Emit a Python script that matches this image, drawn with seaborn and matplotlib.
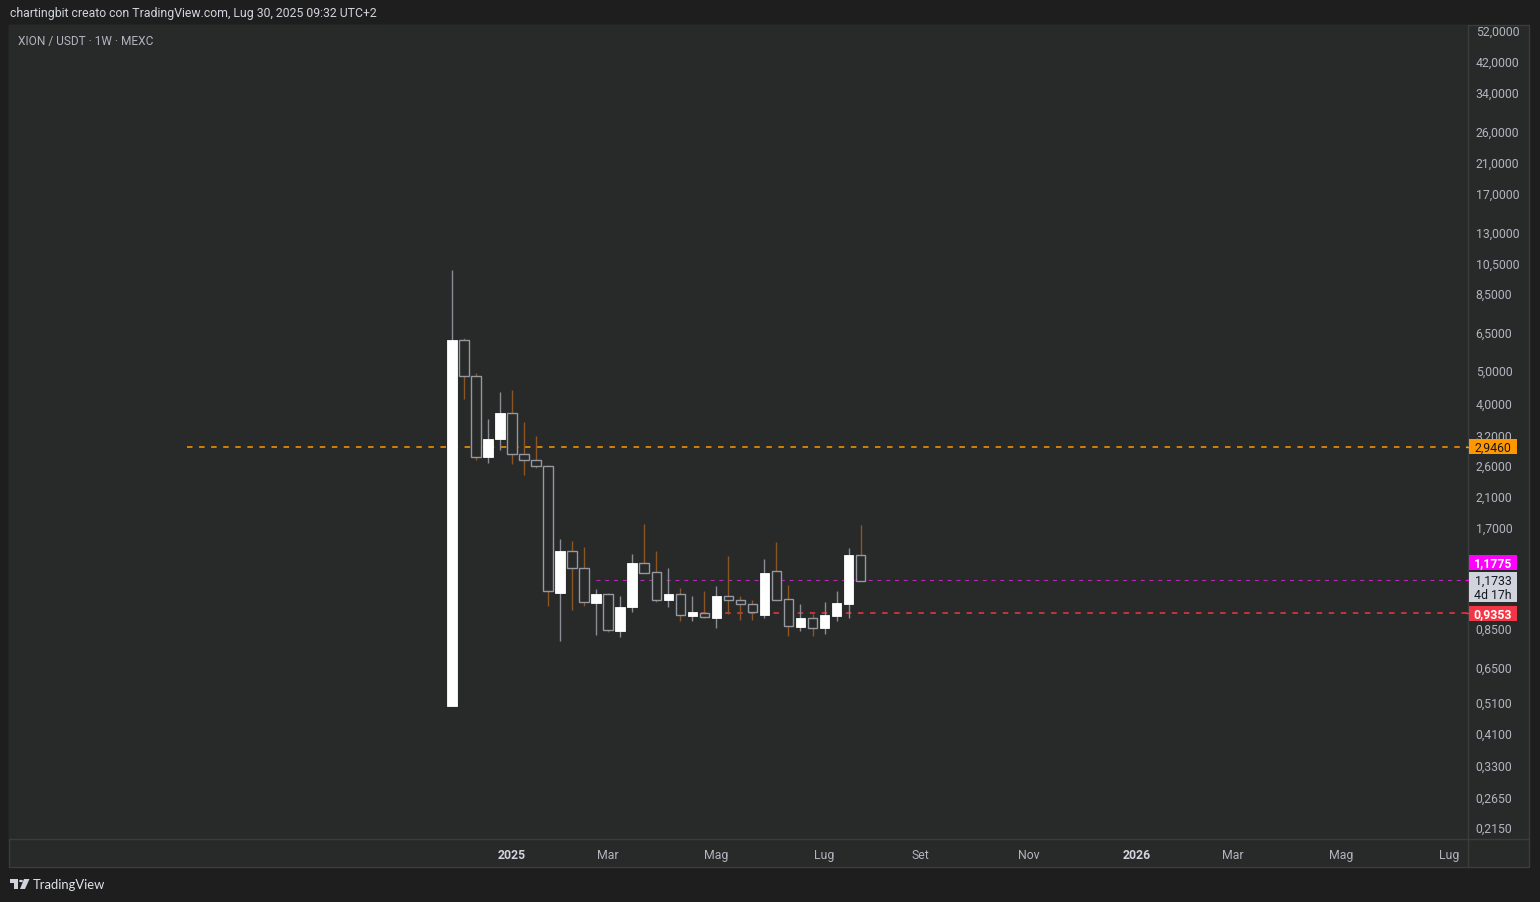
import numpy as np
import pandas as pd
import matplotlib
matplotlib.use("Agg")
import matplotlib.pyplot as plt
import matplotlib.dates as mdates
from matplotlib.patches import Rectangle, Circle, Polygon
from matplotlib.lines import Line2D
from matplotlib.ticker import NullLocator
import seaborn as sns

# ---------------- data ----------------
week_start = pd.date_range("2024-12-02", periods=35, freq="7D")
opens = [0.495, 6.15, 4.79, 2.74, 3.11, 3.72, 2.80, 2.69, 2.59, 1.079, 1.437, 1.277,
         1.008, 1.067, 0.829, 0.975, 1.324, 1.244, 1.028, 1.067, 0.921, 0.937, 0.908,
         1.053, 1.024, 0.996, 0.927, 1.250, 1.031, 0.854, 0.906, 0.848, 0.921, 1.000, 1.397]
highs = [9.96, 6.24, 4.90, 3.57, 4.30, 4.36, 3.50, 3.18, 2.60, 1.561, 1.541, 1.478,
         1.106, 1.075, 1.055, 1.409, 1.732, 1.438, 1.279, 1.114, 1.055, 1.091, 1.130,
         1.388, 1.055, 1.025, 1.358, 1.530, 1.138, 0.998, 0.929, 1.012, 1.094, 1.469, 1.720]
lows = [0.495, 4.10, 2.70, 2.64, 2.89, 2.62, 2.43, 2.55, 0.986, 0.775, 0.960, 0.986,
        0.808, 0.825, 0.797, 0.946, 1.233, 1.014, 0.980, 0.890, 0.890, 0.905, 0.848,
        0.929, 0.896, 0.896, 0.905, 1.024, 0.802, 0.829, 0.802, 0.813, 0.890, 0.905, 1.1733]
closes = [6.15, 4.79, 2.74, 3.11, 3.72, 2.80, 2.69, 2.59, 1.089, 1.438, 1.277, 1.010,
          1.069, 0.833, 0.978, 1.324, 1.233, 1.028, 1.069, 0.923, 0.945, 0.910, 1.055,
          1.024, 0.996, 0.943, 1.236, 1.024, 0.856, 0.906, 0.848, 0.925, 1.005, 1.399, 1.1733]

y_ticks = [52, 42, 34, 26, 21, 17, 13, 10.5, 8.5, 6.5, 5, 4, 3.2, 2.6, 2.1, 1.7,
           0.85, 0.65, 0.51, 0.41, 0.33, 0.265, 0.215]
x_tick_dates = ["2025-01-06", "2025-03-03", "2025-05-05", "2025-07-07", "2025-09-01",
                "2025-11-03", "2026-01-05", "2026-03-02", "2026-05-04", "2026-07-06"]
x_tick_labels = ["2025", "Mar", "Mag", "Lug", "Set", "Nov", "2026", "Mar", "Mag", "Lug"]

resistance_level = 2.9460
resistance_start = "2024-07-01"
support_level = 0.9353
support_start = "2025-04-19"
indicator_level = 1.1775
indicator_start = "2025-02-24"
last_price = 1.1733
countdown = "4d 17h"

title_text = "chartingbit creato con TradingView.com, Lug 30, 2025 09:32 UTC+2"
symbol_text = "XION / USDT \u00b7 1W \u00b7 MEXC"

# ---------------- style ----------------
sns.set_theme(style="dark")
plt.rcParams["font.family"] = ["Roboto", "DejaVu Sans"]

W, H = 1540, 903
OUTER = "#1e1e1e"
PANE = "#282929"
BORDER = "#3b3c3c"
TXT = "#b2b5be"
FS = 8.8

def fx(px):
    return px / W

def fy(py):
    return 1 - py / H

fig = plt.figure(figsize=(W / 100, H / 100), dpi=100, facecolor=OUTER)

# chart frame (pane + axis strips)
fig.add_artist(Rectangle((fx(9), fy(868)), (1529 - 9) / W, (868 - 26) / H,
                         transform=fig.transFigure, facecolor=PANE,
                         edgecolor=BORDER, lw=1.0, zorder=0))

ax = fig.add_axes([fx(9), fy(840), (1468 - 9) / W, (840 - 26) / H])
ax.set_facecolor(PANE)
for s in ax.spines.values():
    s.set_visible(False)
ax.grid(False)

# scales
anchor = mdates.date2num(pd.Timestamp("2025-01-06"))
px_per_day = 12.02 / 7.0
x_left = anchor - (512 - 9) / px_per_day
x_right = anchor + (1468 - 512) / px_per_day
ax.set_yscale("log")
ax.set_xlim(x_left, x_right)
k = 145.2
y0 = 31.0
ax.set_ylim(52 * np.exp(-(840 - y0) / k), 52 * np.exp((y0 - 26) / k))

# ---------------- candles ----------------
xs = mdates.date2num(week_start)
o = np.array(opens); h = np.array(highs); l = np.array(lows); c = np.array(closes)
up = c >= o
body_w = 5.5
wick_up = "#8a8d95"
wick_dn = "#8c5524"

ax.vlines(xs[up], l[up], h[up], colors=wick_up, lw=1.0, zorder=2)
ax.vlines(xs[~up], l[~up], h[~up], colors=wick_dn, lw=1.0, zorder=2)
bot = np.minimum(o, c)
top = np.maximum(o, c)
ax.bar(xs[up], top[up] - bot[up], bottom=bot[up], width=body_w,
       color="#ffffff", edgecolor="#ffffff", lw=0.6, zorder=3)
ax.bar(xs[~up], top[~up] - bot[~up], bottom=bot[~up], width=body_w,
       color=PANE, edgecolor="#9598a1", lw=1.0, zorder=3)

# ---------------- horizontal lines ----------------
dash = (0, (3.6, 4.3))
for lvl, start, col, lw in [(resistance_level, resistance_start, "#ff9800", 1.1),
                            (support_level, support_start, "#f23645", 1.1),
                            (indicator_level, indicator_start, "#b828b8", 0.8)]:
    lc_ = ax.hlines(lvl, mdates.date2num(pd.Timestamp(start)), x_right,
                    colors=col, linestyles=dash, lw=lw, zorder=1.5)
    lc_.set_snap(True)

# ---------------- axes ticks ----------------
ax.yaxis.tick_right()
ax.set_yticks(y_ticks)
ax.yaxis.set_minor_locator(NullLocator())
ax.set_yticklabels([f"{v:.4f}".replace(".", ",") for v in y_ticks])
ax.tick_params(axis="y", length=0, pad=5.5, labelcolor=TXT, labelsize=FS)

ax.set_xticks(mdates.date2num(pd.to_datetime(x_tick_dates)))
ax.set_xticks([], minor=True)
ax.set_xticklabels(x_tick_labels)
ax.tick_params(axis="x", length=0, pad=6.5, labelcolor=TXT, labelsize=FS)
for lab in ax.get_xticklabels():
    if lab.get_text().isdigit():
        lab.set_color("#d1d4dc")
        lab.set_fontweight("bold")

# separators
fig.add_artist(Line2D([fx(1468), fx(1468)], [fy(26), fy(868)], transform=fig.transFigure,
                      color=BORDER, lw=1.0, zorder=5))
fig.add_artist(Line2D([fx(9), fx(1529)], [fy(840), fy(840)], transform=fig.transFigure,
                      color=BORDER, lw=1.0, zorder=5))

# ---------------- price labels ----------------
def price_py(val):
    return H - ax.transData.transform((x_left, val))[1]

def label_box(py_center, hgt, face, lines, tcolor, bold=False, tick_py=None, tick_color=None):
    fig.add_artist(Rectangle((fx(1469), fy(py_center + hgt / 2)), 48 / W, hgt / H,
                             transform=fig.transFigure, facecolor=face, edgecolor="none",
                             zorder=6))
    if len(lines) == 1:
        fig.text(fx(1493), fy(py_center), lines[0], ha="center", va="center",
                 color=tcolor, fontsize=FS, fontweight="bold" if bold else "normal",
                 zorder=7)
    else:
        fig.text(fx(1493), fy(py_center - 7), lines[0], ha="center", va="center",
                 color=tcolor, fontsize=FS, zorder=7)
        fig.text(fx(1493), fy(py_center + 7), lines[1], ha="center", va="center",
                 color=tcolor, fontsize=FS, zorder=7)
    if tick_py is not None:
        fig.add_artist(Line2D([fx(1466), fx(1470)], [fy(tick_py), fy(tick_py)],
                              transform=fig.transFigure, color=tick_color, lw=1.0, zorder=6))

fmt = lambda v: f"{v:.4f}".replace(".", ",")
py_res = price_py(resistance_level)
py_sup = price_py(support_level)
py_ind = price_py(indicator_level)
label_box(py_res, 15, "#ff9800", [fmt(resistance_level)], "#131722",
          tick_py=py_res, tick_color="#ff9800")
label_box(py_ind - 17, 15, "#ff00ff", [fmt(indicator_level)], "#ffffff", bold=True,
          tick_py=py_ind, tick_color="#ff00ff")
label_box(py_ind + 7.5, 30, "#d1d4dc", [fmt(last_price), countdown], "#131722")
label_box(py_sup, 15, "#f23645", [fmt(support_level)], "#ffffff", bold=True,
          tick_py=py_sup, tick_color="#f23645")

# ---------------- header / footer text ----------------
fig.text(fx(10), fy(14), title_text, ha="left", va="center", color="#d1d4dc", fontsize=8.8)
fig.text(fx(18), fy(41), symbol_text, ha="left", va="center", color=TXT, fontsize=8.6)

# TradingView logo
lc = "#d1d4dc"
fig.add_artist(Rectangle((fx(10), fy(884)), 8 / W, 4 / H, transform=fig.transFigure,
                         facecolor=lc, edgecolor="none"))
fig.add_artist(Rectangle((fx(14), fy(890)), 4 / W, 10 / H, transform=fig.transFigure,
                         facecolor=lc, edgecolor="none"))
fig.add_artist(Circle((fx(21), fy(882)), 2 / W, transform=fig.transFigure,
                      facecolor=lc, edgecolor="none"))
fig.add_artist(Polygon([(fx(24), fy(880)), (fx(29.5), fy(880)), (fx(25), fy(890)),
                        (fx(20), fy(890))], closed=True, transform=fig.transFigure,
                       facecolor=lc, edgecolor="none"))
fig.text(fx(33), fy(885.5), "TradingView", ha="left", va="center", color="#e0e3eb",
         fontsize=9.4, family=["Lato", "DejaVu Sans"])

fig.savefig("out.png", dpi=100, facecolor=OUTER)
